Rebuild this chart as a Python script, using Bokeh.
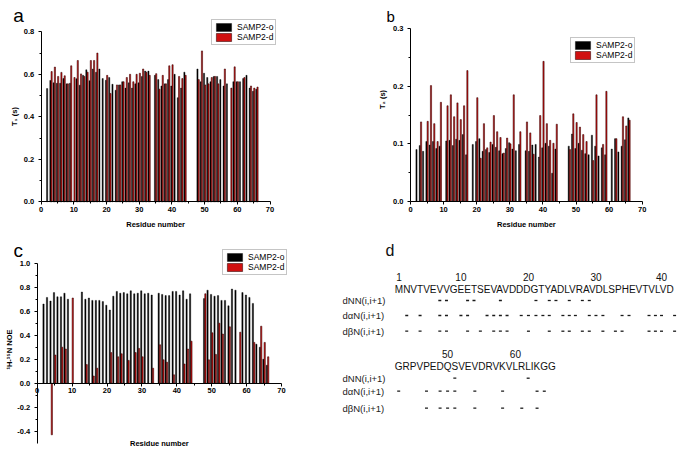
import math
from bokeh.plotting import figure
from bokeh.models import (ColumnDataSource, Range1d, FixedTicker, Label,
                          Legend, LegendItem, PrintfTickFormatter)
from bokeh.layouts import row, column
from bokeh.embed import file_html
from bokeh.resources import INLINE
from bokeh.core.properties import value
from bokeh.transform import dodge

N = None
residues = list(range(1, 67))

# ---- panel a: T1 (s) ----
t1_o = [N, .533, .571, .560, .558, .558, .580, .555, .558, N,
        .579, .549, .595, .621, .570, .625, .610, .625, .580, .572,
        .585, .553, .525, .550, .565, .535, .560, .535, .555, .560,
        .590, .615, .615, N, .595, .575, .545, .555, .575, .545,
        .600, .490, .535, .610, N, N, N, .625, .565, .605,
        .585, .565, .590, .590, .575, .545, .555, N, .565, .565,
        .565, .580, .595, .535, .520, .530]
t1_d = [N, N, .613, .634, .590, .609, .593, .555, .640, .585,
        .665, .602, .590, .610, .665, .665, .700, N, N, .595,
        .510, N, .550, .550, .565, .585, .600, .565, .600, .605,
        .625, .610, .595, N, .603, .530, .595, .555, .640, .645,
        N, .590, .580, .595, N, N, N, .575, .710, .550,
        .555, .585, .590, .555, N, .625, N, .535, .635, .565,
        N, .585, N, .545, .535, .540]

# ---- panel b: T2 (s) ----
t2_o = [N, .090, .097, .087, .104, .098, .104, .092, .096, N,
        .105, .106, .097, .108, .106, .116, .081, N, .099, .104,
        .109, .087, .090, .085, .099, .094, .088, .083, .092, .102,
        .091, .088, .099, N, .088, .087, .098, .099, .077, .093,
        .101, .096, .049, .091, N, N, N, .096, .117, .092,
        .101, .089, .083, .081, .115, .096, .079, .093, .081, N,
        .091, .109, .086, .096, .107, .145]
t2_d = [N, N, .138, N, .139, .201, .135, .104, .172, N,
        .166, .185, .147, .171, .142, .166, .227, N, N, .180,
        .075, .135, .093, .103, .149, .121, .111, .084, .110, .100,
        .185, N, .121, N, .138, .119, .082, N, .149, .243,
        .135, .106, .101, .134, N, N, N, .090, .152, .137,
        .129, .116, .104, N, .071, .185, N, .099, .191, N,
        N, .109, N, .147, .131, .141]

# ---- panel c: 1H-15N NOE ----
noe_o = [N, .66, .715, .685, .755, .72, .72, .75, .70, N,
         N, N, .76, .70, .71, .69, .69, .69, .68, .65,
         .61, .725, .765, .75, .755, .745, .77, .745, .75, .77,
         .745, .75, .735, N, .75, .74, .73, .73, .765, .765,
         .735, .77, .70, .745, N, N, N, .705, .775, .74,
         .725, .73, .69, .69, .645, .785, .775, N, .755, .735,
         .715, .665, .325, .30, .20, .15]
noe_d = [N, N, N, -.43, .235, N, .30, .285, N, .71,
         N, N, N, .155, N, .06, .125, N, N, N,
         .255, N, .22, .245, N, .19, N, .255, .29, .22,
         N, N, .125, N, .32, .195, .175, N, .07, N,
         N, .16, .285, .35, N, N, N, .745, .195, .42,
         .24, .50, .41, N, .47, N, N, .425, N, N,
         N, .34, N, .475, .34, .22]

series_names = ["SAMP2-o", "SAMP2-d"]
x_ticks = [0, 10, 20, 30, 40, 50, 60, 70]
t1_ticks = [0.0, 0.2, 0.4, 0.6, 0.8]
t2_ticks = [0.0, 0.1, 0.2, 0.3]
noe_ticks = [-0.4, -0.2, 0.0, 0.2, 0.4, 0.6, 0.8, 1.0]

# ---- panel d: sequence and sequential NOE connectivities ----
sequence = "MNVTVEVVGEETSEVAVDDDGTYADLVRAVDLSPHEVTVLVDGRPVPEDQSVEVDRVKVLRLIKGG"
residues_per_line = [42, 24]
number_marks = [1, 10, 20, 30, 40, 50, 60]
noe_rows = ["dNN(i,i+1)", "dαN(i,i+1)", "dβN(i,i+1)"]
dNN = [7, 8, 11, 12, 16, 21, 23, 24, 26, 28, 29, 51, 62]
daN = [2, 4, 7, 8, 10, 11, 14, 15, 16, 17, 19, 20, 21, 22, 23, 25, 26, 27,
       29, 30, 31, 34, 35, 38, 39, 40, 42, 43, 47, 49, 50, 51, 54, 58, 64, 65]
dbN = [2, 4, 7, 8, 11, 13, 15, 16, 17, 20, 23, 25, 26, 28, 29, 31, 33, 34,
       38, 39, 40, 42, 47, 49, 50, 51, 54, 58, 61, 64]

FONT = "Liberation Sans"
BLACK = "#000000"
RED = "#d01010"


def bar_source(vals):
    keep = [(r, v) for r, v in zip(residues, vals) if v is not None]
    return ColumnDataSource(dict(res=[k[0] for k in keep], val=[k[1] for k in keep]))


def midpoints(t):
    return [(a + b) / 2 for a, b in zip(t[:-1], t[1:])]


def fit_range(lo_val, hi_val, lo_px, hi_px, size_px):
    s = (hi_px - lo_px) / (hi_val - lo_val)
    start = lo_val - lo_px / s
    return Range1d(start, start + size_px / s)


def style_axis(ax):
    ax.axis_line_color = BLACK
    ax.axis_line_width = 1
    ax.major_tick_out = 3
    ax.major_tick_in = 0
    ax.minor_tick_out = 2
    ax.minor_tick_in = 0
    ax.major_tick_line_color = BLACK
    ax.minor_tick_line_color = BLACK
    ax.major_label_text_font = FONT
    ax.major_label_text_font_size = "7.5px"
    ax.major_label_text_font_style = "bold"
    ax.major_label_text_color = BLACK


def text_label(p, text, x, y, size, bold=False, angle=0.0, align="left",
               baseline="alphabetic", x_units="screen"):
    p.add_layout(Label(x=x, y=y, x_units=x_units, y_units="screen", text=text,
                       text_font=FONT, text_font_size=size,
                       text_font_style="bold" if bold else "normal",
                       text_color=BLACK, angle=angle, text_align=align,
                       text_baseline=baseline))


def make_panel(w, h, xpx, ylim, ypx, yticks, o_vals, d_vals, ylabel, ylabel_xy,
               xlabel_y, letter, letter_xy, letter_size, legend_loc):
    p = figure(width=w, height=h,
               x_range=fit_range(0, 70, xpx[0], xpx[1], w),
               y_range=fit_range(ylim[0], ylim[1], ypx[0], ypx[1], h),
               output_backend="svg", toolbar_location=None, min_border=0)
    p.outline_line_color = None
    p.grid.visible = False
    p.background_fill_color = "white"
    p.border_fill_color = "white"
    r1 = p.vbar(x=dodge("res", -0.19), top="val", width=0.36, source=bar_source(o_vals),
                fill_color=BLACK, line_color=BLACK, line_width=0.4)
    r2 = p.vbar(x=dodge("res", 0.19), top="val", width=0.36, source=bar_source(d_vals),
                fill_color=RED, line_color="#300000", line_width=0.55)

    xa = p.xaxis[0]
    ya = p.yaxis[0]
    style_axis(xa)
    style_axis(ya)
    xa.fixed_location = 0
    xa.bounds = (x_ticks[0], x_ticks[-1])
    xa.ticker = FixedTicker(ticks=x_ticks, minor_ticks=midpoints(x_ticks))
    xa.formatter = PrintfTickFormatter(format="%d")
    xa.major_label_standoff = 2
    ya.fixed_location = 0
    ya.bounds = ylim
    ya.ticker = FixedTicker(ticks=yticks, minor_ticks=midpoints(yticks))
    ya.formatter = PrintfTickFormatter(format="%.1f")
    ya.major_label_standoff = 4

    text_label(p, "Residue number", 35, xlabel_y, "7.5px", bold=True, align="center",
               baseline="middle", x_units="data")
    text_label(p, ylabel, ylabel_xy[0], ylabel_xy[1], "7.5px", bold=True,
               angle=math.pi / 2, align="center", baseline="middle")
    text_label(p, letter, letter_xy[0], letter_xy[1], letter_size)

    legend = Legend(items=[LegendItem(label=series_names[0], renderers=[r1]),
                           LegendItem(label=series_names[1], renderers=[r2])],
                    location=legend_loc, label_text_font=FONT, label_text_font_size="8.5px",
                    label_text_color=BLACK,
                    glyph_width=19, glyph_height=10, label_height=10, label_standoff=4,
                    spacing=0, padding=2, margin=0, border_line_color="#8c8c8c",
                    border_line_width=1, background_fill_color="white",
                    background_fill_alpha=1)
    p.add_layout(legend)
    return p


pa = make_panel(340, 232, (40.7, 269.5), (0, 0.8), (30.7, 200.7), t1_ticks, t1_o, t1_d,
                "T₁ (s)", (14, 116), 8, "a", (12.7, 217), "19px", (211, 187))
pb = make_panel(345, 232, (70, 301.7), (0, 0.3), (31, 204), t2_ticks, t2_o, t2_d,
                "T₂ (s)", (41.7, 133), 8, "b", (46, 216), "15px", (230, 169))
pc = make_panel(340, 219, (36.7, 281), (-0.5, 1.0), (8.3, 188.3), noe_ticks, noe_o, noe_d,
                "¹H-¹⁵N NOE", (9, 102), 7.7, "c", (13, 201), "19px", (222, 176))

# ---- panel d ----
W_D, H_D = 345, 219
pd_ = figure(width=W_D, height=H_D, x_range=Range1d(0, W_D), y_range=Range1d(H_D, 0),
             output_backend="svg", toolbar_location=None, min_border=0,
             x_axis_location=None, y_axis_location=None)
pd_.grid.visible = False
pd_.outline_line_color = None
pd_.background_fill_color = "white"
pd_.border_fill_color = "white"

# Arial / Liberation Sans advance widths (1/1000 em) for the residue letters
ADV = {'A': 667, 'C': 722, 'D': 722, 'E': 667, 'F': 611, 'G': 778, 'H': 722, 'I': 278,
       'K': 667, 'L': 556, 'M': 833, 'N': 722, 'P': 667, 'Q': 778, 'R': 722, 'S': 667,
       'T': 611, 'V': 667, 'W': 944, 'Y': 667}
SEQ_SIZE = 10
SEQ_X0 = 54.3
line_y = [57.3, 134.0]
num_y = [44.7, 121.3]
row_y = [[68.0, 83.0, 98.7], [145.7, 158.7, 175.7]]

lines = []
line_of = {}
center = {}
start = 0
for li, n in enumerate(residues_per_line):
    seg = sequence[start:start + n]
    lines.append(seg)
    cum = 0.0
    for k, ch in enumerate(seg):
        w = ADV[ch] * SEQ_SIZE / 1000.0
        center[start + k + 1] = SEQ_X0 + cum + w / 2
        line_of[start + k + 1] = li
        cum += w
    start += n

pd_.text(x=[SEQ_X0] * len(lines), y=line_y[:len(lines)], text=lines,
         text_font=value(FONT), text_font_size="10px", text_align="left",
         text_baseline="middle", text_color="#111111")
pd_.text(x=[center[n] for n in number_marks], y=[num_y[line_of[n]] for n in number_marks],
         text=[str(n) for n in number_marks], text_font=value(FONT), text_font_size="10px",
         text_align="center", text_baseline="middle", text_color="#111111")
lab_x, lab_y, lab_t = [], [], []
for li in range(len(lines)):
    for ri, name in enumerate(noe_rows):
        lab_x.append(2)
        lab_y.append(row_y[li][ri])
        lab_t.append(name)
pd_.text(x=lab_x, y=lab_y, text=lab_t, text_font=value(FONT), text_font_size="9.5px",
         text_align="left", text_baseline="middle", text_color="#222222")
dx, dy = [], []
for ri, lst in enumerate([dNN, daN, dbN]):
    for r in lst:
        dx.append(center[r])
        dy.append(row_y[line_of[r]][ri])
pd_.rect(x=dx, y=dy, width=3.0, height=1.3, fill_color="#1a1a1a", line_color=None)
pd_.text(x=[45], y=[18], text=["d"], text_font=value(FONT), text_font_size="16px",
         text_align="left", text_baseline="alphabetic", text_color="#111111")

layout = column(row(pa, pb), row(pc, pd_))
open("out.html", "w").write(file_html(layout, INLINE))
